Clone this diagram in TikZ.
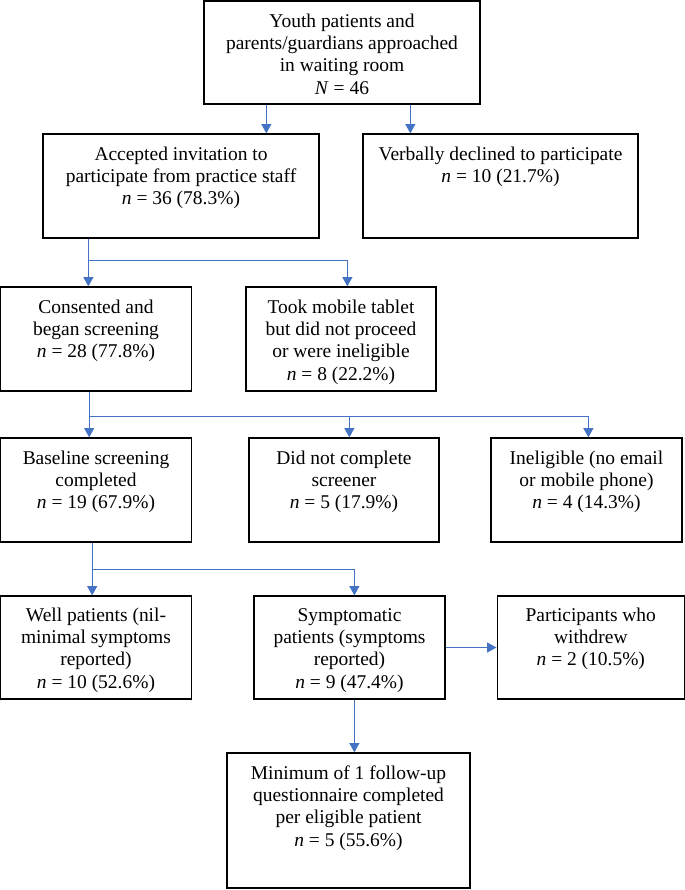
\documentclass[tikz,border=0pt]{standalone}
\usepackage{fontspec}
\setmainfont{Liberation Serif}
\usetikzlibrary{arrows.meta,calc}
\definecolor{arrblue}{RGB}{68,114,196}
\begin{document}
\begin{tikzpicture}[x=0.75pt,y=-0.75pt,
  bx/.style={draw=black, line width=0.95pt, inner sep=0pt},
  txt/.style={align=center, inner sep=0pt, anchor=north, font=\fontsize{14.6}{16.75}\selectfont},
  ln/.style={draw=arrblue, line width=0.9pt},
  arr/.style={ln, -{Triangle[length=7pt,width=7.5pt]}}]
\useasboundingbox (0,0) rectangle (685,890);

% boxes
\node[bx, minimum width=207pt,   minimum height=77.25pt] (top)  at (342,52.5) {};
\node[bx, minimum width=207pt,   minimum height=78pt]    (acc)  at (181,186) {};
\node[bx, minimum width=206.25pt,minimum height=78pt]    (dec)  at (500.5,186) {};
\node[bx, minimum width=142.8pt, minimum height=78pt]    (con)  at (96,339) {};
\node[bx, minimum width=142.5pt, minimum height=78pt]    (took) at (341,339) {};
\node[bx, minimum width=142.8pt, minimum height=78pt]    (base) at (96,490) {};
\node[bx, minimum width=142.5pt, minimum height=78pt]    (dnc)  at (344,490) {};
\node[bx, minimum width=143.25pt,minimum height=78pt]    (inel) at (586.5,490) {};
\node[bx, minimum width=142.8pt, minimum height=77.25pt] (well) at (96,647.5) {};
\node[bx, minimum width=143.25pt,minimum height=77.25pt] (sym)  at (349.5,647.5) {};
\node[bx, minimum width=140.5pt, minimum height=77.25pt] (wd)   at (590.8,647.5) {};
\node[bx, minimum width=182.25pt,minimum height=101.25pt](min)  at (348.5,820.5) {};

% texts
\node[txt] (top-t)  at ($(top.north)+(0,11)$)  {\strut Youth patients and\\parents/guardians approached\\in waiting room\\\textit{N} = 46};
\node[txt] (acc-t)  at ($(acc.north)+(0,11)$)  {\strut Accepted invitation to\\participate from practice staff\\\textit{n} = 36 (78.3\%)};
\node[txt] (dec-t)  at ($(dec.north)+(0,11)$)  {\strut Verbally declined to participate\\\textit{n} = 10 (21.7\%)};
\node[txt] (con-t)  at ($(con.north)+(0,11)$)  {\strut Consented and\\began screening\\\textit{n} = 28 (77.8\%)};
\node[txt] (took-t) at ($(took.north)+(0,11)$) {\strut Took mobile tablet\\but did not proceed\\or were ineligible\\\textit{n} = 8 (22.2\%)};
\node[txt] (base-t) at ($(base.north)+(0,11)$) {\strut Baseline screening\\completed\\\textit{n} = 19 (67.9\%)};
\node[txt] (dnc-t)  at ($(dnc.north)+(0,11)$)  {\strut Did not complete\\screener\\\textit{n} = 5 (17.9\%)};
\node[txt] (inel-t) at ($(inel.north)+(0,11)$) {\strut Ineligible (no email\\or mobile phone)\\\textit{n} = 4 (14.3\%)};
\node[txt] (well-t) at ($(well.north)+(0,10)$) {\strut Well patients (nil-\\minimal symptoms\\reported)\\\textit{n} = 10 (52.6\%)};
\node[txt] (sym-t)  at ($(sym.north)+(0,10)$)  {\strut Symptomatic\\patients (symptoms\\reported)\\\textit{n} = 9 (47.4\%)};
\node[txt] (wd-t)   at ($(wd.north)+(0,10)$)   {\strut Participants who\\withdrew\\\textit{n} = 2 (10.5\%)};
\node[txt] (min-t)  at ($(min.north)+(0,11)$)  {\strut Minimum of 1 follow-up\\questionnaire completed\\per eligible patient\\\textit{n} = 5 (55.6\%)};

% connectors
\draw[arr] ($(top.south west)+(63,0)$) coordinate (c1) -- (c1 |- acc.north);
\draw[arr] ($(top.south west)+(207,0)$) coordinate (c2) -- (c2 |- dec.north);

\draw[arr] ($(acc.south west)+(46,0)$) coordinate (c3) -- (c3 |- con.north);
\coordinate (j1) at ($(c3)+(0,22)$);
\draw[arr] (j1) -| ($(took.north west)+(102,0)$);

\draw[arr] ($(con.south west)+(89,0)$) coordinate (c4) -- (c4 |- base.north);
\coordinate (j2) at ($(c4)+(0,25)$);
\draw[arr] (j2) -| ($(dnc.north west)+(101,0)$);
\draw[arr] (j2) -| ($(inel.north west)+(98,0)$);

\draw[arr] ($(base.south west)+(92,0)$) coordinate (c5) -- (c5 |- well.north);
\coordinate (j3) at ($(c5)+(0,27)$);
\draw[arr] (j3) -| ($(sym.north west)+(101,0)$);

\draw[arr] (sym.east) -- (wd.west);
\draw[arr] ($(sym.south west)+(101,0)$) coordinate (c6) -- (c6 |- min.north);
\end{tikzpicture}
\end{document}
